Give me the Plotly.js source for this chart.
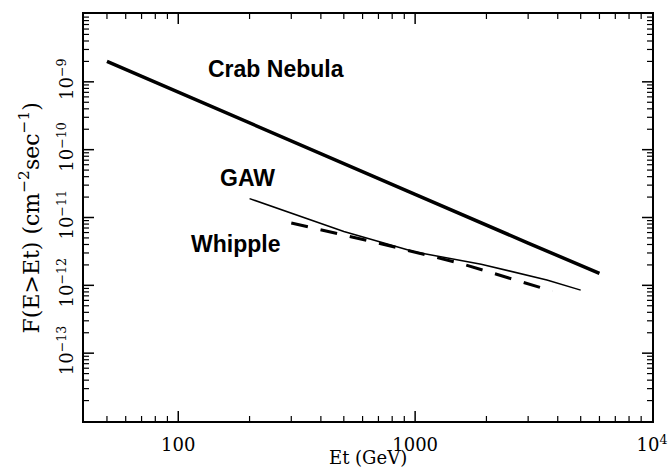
<!DOCTYPE html>
<html>
<head>
<meta charset="utf-8">
<script src="https://cdn.plot.ly/plotly-3.0.1.min.js"></script>
<style>html,body{margin:0;padding:0;background:#fff;}#chart{width:668px;height:472px;}</style>
</head>
<body>
<div id="chart"></div>
<script>
// Energy thresholds (GeV) and integral fluxes F(E>Et) (cm^-2 s^-1)
var crabE = [50, 100, 300, 1000, 3000, 6000];
var crabF = [2.0e-9, 7.0e-10, 1.35e-10, 2.2e-11, 4.2e-12, 1.5e-12];

var gawE = [200, 300, 500, 1000, 1900, 3600, 5000];
var gawF = [1.9e-11, 1.15e-11, 6.2e-12, 3.1e-12, 2.05e-12, 1.2e-12, 8.5e-13];

var whippleE = [300, 680, 1560, 3800];
var whippleF = [8.3e-12, 4.3e-12, 2.1e-12, 8.2e-13];

var xTickVals = [100, 1000, 10000];
var xTickText = ['100', '1000', '10<sup>4</sup>'];
var yTickVals = [1e-13, 1e-12, 1e-11, 1e-10, 1e-9];
var yTickText = ['10<sup>\u221213</sup>', '10<sup>\u221212</sup>', '10<sup>\u221211</sup>', '10<sup>\u221210</sup>', '10<sup>\u22129</sup>'];

var labels = ['Crab Nebula', 'GAW', 'Whipple'];
var xTitle = 'Et (GeV)';
var yTitle = 'F(E>Et) (cm<sup>\u22122</sup>sec<sup>\u22121</sup>)';

var xRange = [Math.log10(40), 4];
var yRange = [-14, -8];

// tick mark positions: decades (major) and 2..9 within each decade (minor)
var majorX = [100, 1000], minorX = [];
for (var d = 1; d <= 3; d++) for (var m = 2; m <= 9; m++) { var v = m * Math.pow(10, d); if (Math.log10(v) > xRange[0]) minorX.push(v); }
var majorY = yTickVals, minorY = [];
for (var e = -14; e <= -9; e++) for (var k = 2; k <= 9; k++) minorY.push(k * Math.pow(10, e));

function fx(v) { return (Math.log10(v) - xRange[0]) / (xRange[1] - xRange[0]); }
function fy(v) { return (Math.log10(v) - yRange[0]) / (yRange[1] - yRange[0]); }

var shapes = [];
function xTicks(vals, len, w) {
  vals.forEach(function (v) {
    var f = fx(v);
    shapes.push({type: 'line', xref: 'paper', yref: 'paper', ysizemode: 'pixel', yanchor: 0, x0: f, x1: f, y0: 0, y1: len, line: {color: '#000', width: w}});
    shapes.push({type: 'line', xref: 'paper', yref: 'paper', ysizemode: 'pixel', yanchor: 1, x0: f, x1: f, y0: 0, y1: -len, line: {color: '#000', width: w}});
  });
}
function yTicks(vals, len, w) {
  vals.forEach(function (v) {
    var f = fy(v);
    shapes.push({type: 'line', xref: 'paper', yref: 'paper', xsizemode: 'pixel', xanchor: 0, y0: f, y1: f, x0: 0, x1: len, line: {color: '#000', width: w}});
    shapes.push({type: 'line', xref: 'paper', yref: 'paper', xsizemode: 'pixel', xanchor: 1, y0: f, y1: f, x0: 0, x1: -len, line: {color: '#000', width: w}});
  });
}
xTicks(minorX, 5, 1.2); xTicks(majorX, 10, 1.5);
yTicks(minorY, 5, 1.2); yTicks(majorY, 10, 1.5);

var serif = 'DejaVu Serif, serif';
var sans = 'Liberation Sans, Arial, sans-serif';

var traces = [
  {x: crabE, y: crabF, mode: 'lines', line: {color: '#000', width: 3.5}, name: labels[0]},
  {x: gawE, y: gawF, mode: 'lines', line: {color: '#000', width: 1.5}, name: labels[1]},
  {x: whippleE, y: whippleF, mode: 'lines', line: {color: '#000', width: 3, dash: '17px,13px'}, name: labels[2]}
];

var layout = {
  width: 668, height: 472,
  margin: {l: 84, r: 16, t: 14, b: 51},
  paper_bgcolor: '#fff', plot_bgcolor: '#fff',
  showlegend: false,
  xaxis: {
    type: 'log', range: xRange, showgrid: false, zeroline: false, showline: true, linecolor: '#000', linewidth: 1.5, mirror: true, ticks: '',
    tickmode: 'array', tickvals: xTickVals, ticktext: xTickText, ticklabelstandoff: 7,
    tickfont: {family: serif, size: 18, color: '#000'}
  },
  yaxis: {
    type: 'log', range: yRange, showgrid: false, zeroline: false, showline: true, linecolor: '#000', linewidth: 1.5, mirror: true, ticks: '',
    tickmode: 'array', tickvals: yTickVals, ticktext: yTickText, tickangle: -90, ticklabelstandoff: 2,
    tickfont: {family: serif, size: 18, color: '#000'}
  },
  shapes: shapes,
  annotations: [
    {xref: 'paper', yref: 'paper', x: 0.338, y: 0.865, xanchor: 'center', yanchor: 'middle', text: labels[0], showarrow: false,
     font: {family: sans, size: 23, color: '#000', weight: 'bold'}},
    {xref: 'paper', yref: 'paper', x: 0.287, y: 0.597, xanchor: 'center', yanchor: 'middle', text: labels[1], showarrow: false,
     font: {family: sans, size: 23, color: '#000', weight: 'bold'}},
    {xref: 'paper', yref: 'paper', x: 0.266, y: 0.435, xanchor: 'center', yanchor: 'middle', text: labels[2], showarrow: false,
     font: {family: sans, size: 23, color: '#000', weight: 'bold'}},
    {xref: 'paper', yref: 'paper', x: -0.097, y: 0.5, xanchor: 'center', yanchor: 'middle', textangle: -90, text: yTitle, showarrow: false,
     font: {family: serif, size: 22, color: '#000'}},
    {xref: 'paper', yref: 'paper', x: 0.5, y: -0.121, xanchor: 'center', yanchor: 'bottom', text: xTitle, showarrow: false,
     font: {family: serif, size: 18, color: '#000'}}
  ]
};

Plotly.newPlot('chart', traces, layout, {displayModeBar: false});
</script>
</body>
</html>
